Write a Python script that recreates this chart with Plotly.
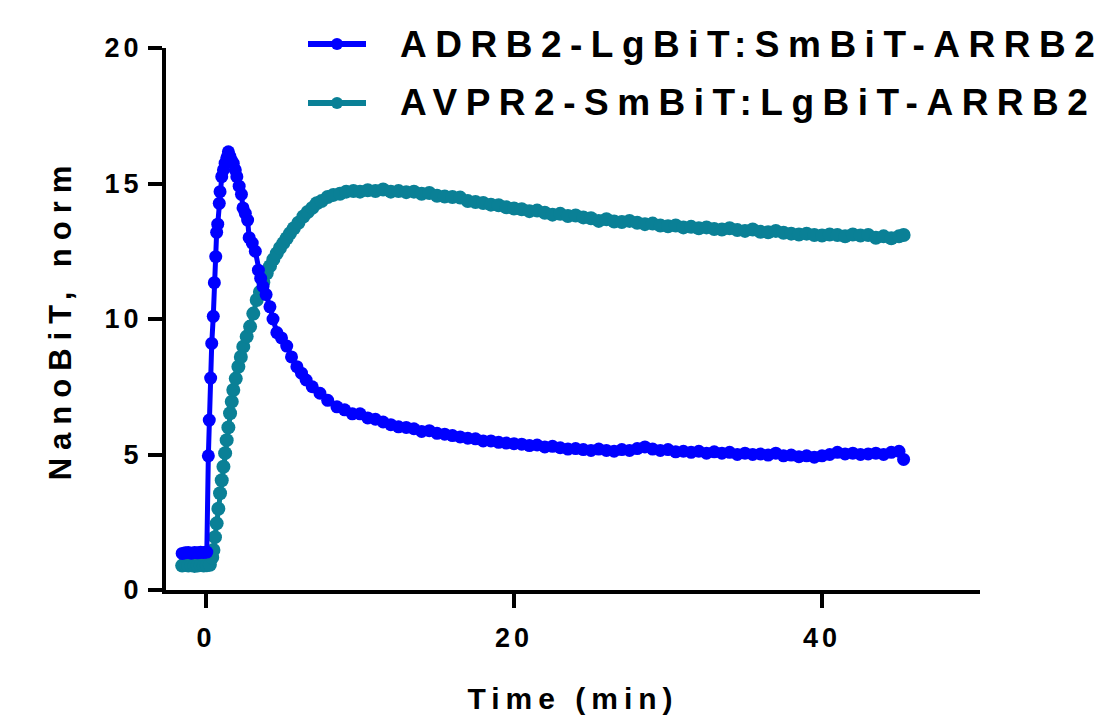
import plotly.graph_objects as go

# ADRB2-LgBiT:SmBiT-ARRB2 (blue)
adrb2_time = [-1.55, -1.35, -1.15, -0.95, -0.75, -0.55, -0.35, -0.15, 0.05,
              0.15, 0.21, 0.3, 0.37, 0.47, 0.54, 0.63, 0.69, 0.76, 0.86, 0.91, 1.02, 1.13, 1.24, 1.35, 1.45,
              1.55, 1.65, 1.77, 1.9, 2.0, 2.15, 2.3, 2.4, 2.55, 2.7, 2.8, 3.0, 3.2, 3.4, 3.55, 3.7, 3.9,
              4.15, 4.35, 4.6, 4.9, 5.24, 5.55, 5.9, 6.2, 6.5, 6.9, 7.4, 7.9, 8.5, 9.0, 9.5, 10.0, 10.5,
              11.0, 11.5, 12.0, 12.5, 13.0, 13.5, 14.0, 14.5, 15.0, 15.5, 16.0, 16.5, 17.0, 17.5, 18.0,
              18.5, 19.0, 19.5, 20.0, 20.5, 21.0, 21.5, 22.0, 22.5, 23.0, 23.5, 24.0, 24.5, 25.0, 25.5,
              26.0, 26.5, 27.0, 27.5, 28.0, 28.5, 29.0, 29.5, 30.0, 30.5, 31.0, 31.5, 32.0, 32.5, 33.0,
              33.5, 34.0, 34.5, 35.0, 35.5, 36.0, 36.5, 37.0, 37.5, 38.0, 38.5, 39.0, 39.5, 40.0, 40.5,
              41.0, 41.5, 42.0, 42.5, 43.0, 43.5, 44.0, 44.5, 45.0, 45.3]
adrb2_val = [1.35, 1.37, 1.38, 1.36, 1.38, 1.37, 1.39, 1.38, 1.40,
             4.95, 6.27, 7.82, 9.1, 10.1, 11.34, 12.3, 13.2, 13.5, 14.27, 14.7, 15.25, 15.5, 15.75, 15.95, 16.17,
             16.0, 15.85, 15.74, 15.5, 15.25, 14.9, 14.6, 14.1, 13.9, 13.65, 13.0, 12.8, 12.5, 11.8, 11.5, 11.2, 10.9,
             10.45, 10.0, 9.5, 9.3, 9.0, 8.6, 8.24, 8.0, 7.75, 7.5, 7.26, 7.0, 6.76, 6.65, 6.5, 6.5, 6.35,
             6.3, 6.2, 6.1, 6.02, 6.0, 5.95, 5.85, 5.88, 5.78, 5.75, 5.7, 5.65, 5.6, 5.58, 5.5,
             5.5, 5.45, 5.42, 5.4, 5.38, 5.33, 5.35, 5.28, 5.3, 5.25, 5.2, 5.22, 5.18, 5.15, 5.2,
             5.15, 5.12, 5.18, 5.15, 5.22, 5.28, 5.2, 5.15, 5.18, 5.1, 5.12, 5.08, 5.12, 5.05, 5.1,
             5.05, 5.08, 5.0, 5.05, 5.0, 5.02, 4.98, 5.05, 4.95, 4.98, 4.92, 4.95, 4.9, 4.95, 5.0,
             5.08, 5.02, 5.05, 5.0, 5.02, 5.05, 5.0, 5.08, 5.12, 4.82]

# AVPR2-SmBiT:LgBiT-ARRB2 (teal)
avpr2_time = [-1.55, -1.35, -1.15, -0.95, -0.75, -0.55, -0.35, -0.15, 0.05, 0.25,
              0.4, 0.48, 0.58, 0.69, 0.8, 0.91, 1.02, 1.13, 1.24, 1.34, 1.45, 1.56, 1.67, 1.77, 1.93,
              2.1, 2.26, 2.42, 2.64, 2.86, 3.07, 3.29, 3.5, 3.72, 3.94, 4.15, 4.37, 4.59, 4.8, 5.02,
              5.24, 5.45, 5.7, 6.0, 6.32, 6.6, 6.9, 7.19, 7.5, 7.9, 8.27, 8.7, 9.1, 9.57, 10.0, 10.5,
              11.0, 11.5, 12.0, 12.5, 13.0, 13.5, 14.0, 14.5, 15.0, 15.5, 16.0, 16.5, 17.0, 17.5, 18.0,
              18.5, 19.0, 19.5, 20.0, 20.5, 21.0, 21.5, 22.0, 22.5, 23.0, 23.5, 24.0, 24.5, 25.0, 25.5,
              26.0, 26.5, 27.0, 27.5, 28.0, 28.5, 29.0, 29.5, 30.0, 30.5, 31.0, 31.5, 32.0, 32.5, 33.0,
              33.5, 34.0, 34.5, 35.0, 35.5, 36.0, 36.5, 37.0, 37.5, 38.0, 38.5, 39.0, 39.5, 40.0, 40.5,
              41.0, 41.5, 42.0, 42.5, 43.0, 43.5, 44.0, 44.5, 45.0, 45.3]
avpr2_val = [0.9, 0.92, 0.9, 0.91, 0.89, 0.9, 0.92, 0.9, 0.91, 0.93,
             1.2, 1.48, 1.95, 2.46, 3.0, 3.57, 4.05, 4.55, 5.05, 5.53, 6.0, 6.52, 6.95, 7.38, 7.8,
             8.24, 8.6, 8.98, 9.35, 9.72, 10.2, 10.7, 11.0, 11.35, 11.69, 11.95, 12.2, 12.42, 12.62, 12.8,
             12.98, 13.16, 13.35, 13.55, 13.78, 13.95, 14.1, 14.27, 14.35, 14.5, 14.58, 14.62, 14.7, 14.72, 14.7, 14.75,
             14.72, 14.78, 14.7, 14.72, 14.68, 14.7, 14.62, 14.65, 14.55, 14.52, 14.5, 14.48, 14.35, 14.32, 14.28,
             14.22, 14.2, 14.12, 14.08, 14.05, 13.98, 14.0, 13.92, 13.85, 13.88, 13.8, 13.82, 13.75, 13.72, 13.62,
             13.68, 13.6, 13.58, 13.62, 13.55, 13.5, 13.52, 13.45, 13.42, 13.45, 13.38, 13.4, 13.35, 13.38, 13.32,
             13.3, 13.35, 13.28, 13.25, 13.3, 13.22, 13.2, 13.25, 13.18, 13.15, 13.12, 13.15, 13.1, 13.08, 13.12,
             13.1, 13.05, 13.12, 13.08, 13.1, 13.0, 13.05, 12.98, 13.05, 13.1]

series_names = ["ADRB2-LgBiT:SmBiT-ARRB2", "AVPR2-SmBiT:LgBiT-ARRB2"]
x_ticks = [0, 20, 40]
y_ticks = [0, 5, 10, 15, 20]

BLUE = "#0000ff"
TEAL = "#0a8096"
FONT = "Arial, Liberation Sans, sans-serif"

# plot area size in pixels; the page body adds an 8px margin, so margins are 8 less
PW, PH = 814, 542


def spaced(s, px):
    # Prism-style letter spacing
    return f'<span style="letter-spacing:{px}px">{s}</span>'


fig = go.Figure()

fig.add_trace(go.Scatter(
    x=avpr2_time, y=avpr2_val, name=series_names[1],
    mode="lines+markers", line=dict(color=TEAL, width=5),
    marker=dict(color=TEAL, size=14)))

fig.add_trace(go.Scatter(
    x=adrb2_time, y=adrb2_val, name=series_names[0],
    mode="lines+markers", line=dict(color=BLUE, width=5),
    marker=dict(color=BLUE, size=13)))

axis_common = dict(
    showline=True, linecolor="black", linewidth=4,
    ticks="outside", ticklen=14, tickwidth=4, tickcolor="black",
    showgrid=False, zeroline=False, automargin=False,
    tickfont=dict(family=FONT, size=27, color="black", weight="bold"),
)

fig.update_layout(
    template="none",
    width=1107, height=715,
    margin=dict(l=158, r=135, t=40, b=133),
    plot_bgcolor="white", paper_bgcolor="white",
    showlegend=False,
    xaxis=dict(
        range=[-2.6, 50.26], tickvals=x_ticks, ticklabelstandoff=7,
        ticktext=[spaced(str(t), 4) for t in x_ticks],
        title=dict(text=spaced("Time (min)", 6), standoff=37,
                   font=dict(family=FONT, size=30, color="black", weight="bold")),
        **axis_common,
    ),
    yaxis=dict(
        range=[0, 20], tickvals=y_ticks,
        ticktext=[spaced(str(t), 4) for t in y_ticks],
        title=dict(text=spaced("NanoBiT, norm", 8), standoff=25,
                   font=dict(family=FONT, size=31, color="black", weight="bold")),
        **axis_common,
    ),
)

# Prism draws the x axis line on past the y axis, out to the tick ends
fig.add_shape(type="line", xref="paper", yref="paper", x0=-14 / PW, x1=0, y0=0, y1=0,
              line=dict(color="black", width=4), layer="above")

# legend drawn by hand above the plot (a plotly legend out here upsets the margins)
for i, (name, color) in enumerate(zip(series_names, [BLUE, TEAL])):
    yy = (546 - 59 * i) / PH
    fig.add_shape(type="line", xref="paper", yref="paper",
                  x0=142 / PW, x1=200 / PW, y0=yy, y1=yy,
                  line=dict(color=color, width=6))
    fig.add_shape(type="circle", xref="paper", yref="paper",
                  xsizemode="pixel", ysizemode="pixel",
                  xanchor=171 / PW, yanchor=yy, x0=-6, x1=6, y0=-6, y1=6,
                  fillcolor=color, line=dict(color=color, width=0))
    fig.add_annotation(text=spaced(name, 8.5), xref="paper", yref="paper",
                       x=232 / PW, y=yy, xanchor="left", yanchor="middle",
                       showarrow=False,
                       font=dict(family=FONT, size=37, color="black", weight="bold"))

fig.write_html("out.html")
